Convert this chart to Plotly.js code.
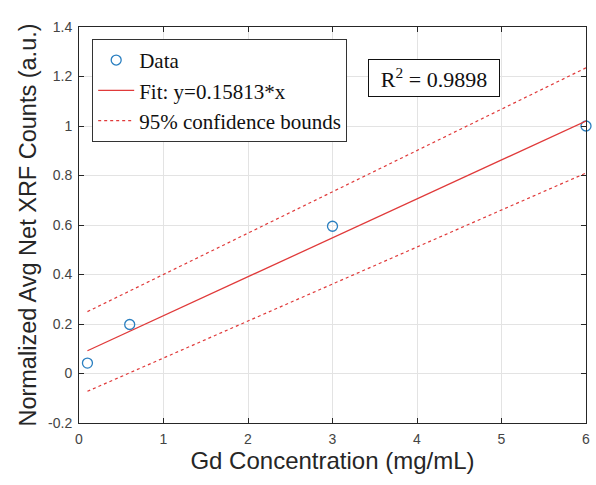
<!DOCTYPE html>
<html>
<head>
<meta charset="utf-8">
<script src="https://cdn.plot.ly/plotly-3.0.1.min.js"></script>
<style>html,body{margin:0;padding:0;background:#fff;}#chart{width:596px;height:485px;}</style>
</head>
<body>
<div id="chart"></div>
<script>
// Data points
const dataX = [0.1, 0.6, 3, 6];
const dataY = [0.042, 0.198, 0.595, 1.0];
// Fit line (as drawn)
const fitX = [0.1, 6];
const fitY = [0.092, 1.02];
// 95% confidence bounds
const upperX = [0.1, 6];
const upperY = [0.25, 1.235];
const lowerX = [0.1, 6];
const lowerY = [-0.072, 0.81];
const xTicks = [0, 1, 2, 3, 4, 5, 6];
const yTicks = [-0.2, 0, 0.2, 0.4, 0.6, 0.8, 1, 1.2, 1.4];
const yTickText = ['-0.2', '0', '0.2', '0.4', '0.6', '0.8', '1', '1.2', '1.4'];

const red = '#e03a3a';
const traces = [
  {x: dataX, y: dataY, mode: 'markers', name: 'Data', cliponaxis: false,
   marker: {symbol: 'circle-open', size: 10, color: '#2a7fc0', line: {width: 1.3, color: '#2a7fc0'}}},
  {x: fitX, y: fitY, mode: 'lines', name: 'Fit: y=0.15813*x',
   line: {color: red, width: 1.3}},
  {x: upperX, y: upperY, mode: 'lines', name: '95% confidence bounds',
   line: {color: red, width: 1.2, dash: 'dot'}},
  {x: lowerX, y: lowerY, mode: 'lines', name: '95% lower', showlegend: false,
   line: {color: red, width: 1.2, dash: 'dot'}}
];

const axisCommon = {
  showline: true, linecolor: '#262626', linewidth: 1, mirror: 'ticks',
  ticks: 'inside', ticklen: 5, tickcolor: '#262626', ticklabelstandoff: 3,
  showgrid: true, gridcolor: '#e3e3e3', gridwidth: 1, zeroline: false,
  tickfont: {family: 'Liberation Sans, Arial, sans-serif', size: 14, color: '#444'}
};

const layout = {
  width: 596, height: 485,
  margin: {l: 79, r: 10, t: 27, b: 62},
  paper_bgcolor: '#fff', plot_bgcolor: '#fff',
  showlegend: true,
  legend: {
    x: 0.026, y: 0.97, xanchor: 'left', yanchor: 'top',
    bgcolor: '#fff', bordercolor: '#333', borderwidth: 1,
    font: {family: 'Liberation Serif, Times New Roman, serif', size: 21, color: '#111'},
    tracegroupgap: 0, itemwidth: 36
  },
  xaxis: Object.assign({}, axisCommon, {
    range: [0, 6], tickvals: xTicks, ticktext: xTicks.map(String),
    title: {text: 'Gd Concentration (mg/mL)', standoff: 6,
            font: {family: 'Liberation Sans, Arial, sans-serif', size: 24, color: '#262626'}}
  }),
  yaxis: Object.assign({}, axisCommon, {
    range: [-0.2, 1.4], tickvals: yTicks, ticktext: yTickText,
    title: {text: 'Normalized Avg Net XRF Counts (a.u.)', standoff: 4,
            font: {family: 'Liberation Sans, Arial, sans-serif', size: 23.5, color: '#262626'}}
  }),
  annotations: [{
    x: 4.2, y: 1.195, xref: 'x', yref: 'y', showarrow: false,
    text: 'R<sup>2</sup> = 0.9898', width: 120, height: 26,
    font: {family: 'Liberation Serif, Times New Roman, serif', size: 22, color: '#111'},
    bgcolor: '#fff', bordercolor: '#111', borderwidth: 1, borderpad: 5
  }]
};

Plotly.newPlot('chart', traces, layout, {displayModeBar: false, staticPlot: true});
</script>
</body>
</html>
